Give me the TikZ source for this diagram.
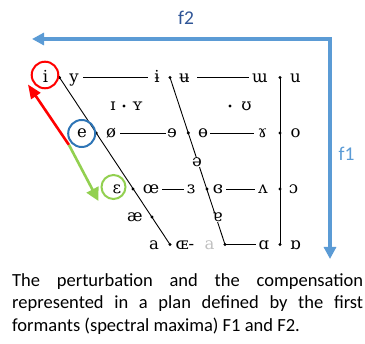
\documentclass[tikz,border=0pt]{standalone}
\usepackage{fontspec}
\setmainfont{Carlito}
\newfontfamily\ipafont{DejaVu Serif}
\usetikzlibrary{arrows.meta}
\definecolor{axisblue}{HTML}{5B9BD5}
\definecolor{labdark}{HTML}{2F5597}
\definecolor{circblue}{HTML}{2E75B6}
\definecolor{lgreen}{HTML}{92D050}
\definecolor{lgray}{HTML}{C0C0C0}
\tikzset{
  v/.style={font=\ipafont\fontsize{16.5}{17}\selectfont, inner sep=0pt, anchor=base},
  vw/.style={v, fill=white, inner xsep=0.5pt},
  chart/.style={line width=0.9pt},
  axis/.style={draw=axisblue, line width=3.2pt, line join=miter, {Triangle[length=12pt,width=12pt]}-{Triangle[length=12pt,width=12pt]}},
  ring/.style={circle, line width=2pt, inner sep=0pt},
  lab/.style={font=\fontsize{19.5}{22}\selectfont, anchor=base},
}
\begin{document}
\begin{tikzpicture}[x=1pt,y=-1pt]
\useasboundingbox (0,0) rectangle (365,344);
% axes
\coordinate (f2tip) at (32,39);
\coordinate (corner) at (330,39);
\coordinate (f1tip) at (330,259);
\draw[axis] (f2tip) -- (corner) -- (f1tip);
\node[lab, text=labdark] (f2) at (186,25) {f2};
\node[lab, text=axisblue] (f1) at (346.5,161) {f1};

% dots
\coordinate (dTL) at (59.5,77.5);
\coordinate (dBL) at (170,244.5);
\coordinate (dTM) at (170,77.5);
\coordinate (dBM) at (225,244.5);
\coordinate (dTR) at (280,77.5);
\coordinate (dBR) at (280,244.5);
% chart lines
\draw[chart] (dTL) -- (dBL);
\draw[chart] (dTM) -- (dBM);
\draw[chart] (dTR) -- (dBR);

% row 1
\node[v] (i) at (45.5,83) {i};
\node[v] (y) at (74,83) {y};
\node[v] (ibar) at (157,83) {ɨ};
\node[v] (ubar) at (184.5,83) {ʉ};
\node[v] (wm) at (260,83) {ɯ};
\node[v] (u) at (295.5,83) {u};
% row 1.5
\node[v] (I) at (113,111) {ɪ};
\node[v] (Y) at (137.5,111) {ʏ};
\node[v] (U) at (246.5,111) {ʊ};
% row 2
\node[v] (e) at (82,138) {e};
\node[v] (oe) at (111,138) {ø};
\node[v] (rev) at (172,138) {ɘ};
\node[v] (obar) at (203,138) {ɵ};
\node[v] (ram) at (262.5,138) {ɤ};
\node[v] (o) at (295.5,138) {o};
% schwa
\node[vw] (schwa) at (197,167) {ə};
% row 3
\node[v] (eps) at (117,194) {ɛ};
\node[v] (oel) at (151,194) {œ};
\node[v] (reps) at (191,194) {ɜ};
\node[v] (ceps) at (218,194) {ɞ};
\node[v] (wedge) at (263,194) {ʌ};
\node[v] (oo) at (293.5,194) {ɔ};
% row 3.5
\node[v] (ae) at (135,222) {æ};
\node[vw] (turna) at (217.5,222) {ɐ};
% row 4
\node[v] (a) at (154,249.5) {a};
\node[v] (OE) at (185,249.5) {ɶ-};
\node[v, text=lgray] (ga) at (209.5,249.5) {a};
\node[v] (scripta) at (264,249.5) {ɑ};
\node[v] (turnscripta) at (295.5,249.5) {ɒ};

% horizontal lines
\draw[chart] (83,77.5) -- (148,77.5);
\draw[chart] (197,77.5) -- (249,77.5);
\draw[chart] (120,133) -- (166,133);
\draw[chart] (210,133) -- (254,133);
\draw[chart] (162,189) -- (184,189);
\draw[chart] (226,189) -- (255,189);
\draw[chart] (dBM) -- (256,244.5);

% dots on chart
\foreach \p in {dTL,dBL,dTM,dBM,dTR,dBR} \fill (\p) circle (1.7pt);
\fill (124,106) circle (1.7pt);
\fill (230,106) circle (1.7pt);
\fill (96.2,133) circle (1.7pt);
\fill (188.3,133) circle (1.7pt);
\fill (133,189) circle (1.7pt);
\fill (207,189) circle (1.7pt);
\fill (152,217) circle (1.7pt);
\fill (280,133) circle (1.7pt);
\fill (280,189) circle (1.7pt);

% rings
\node[ring, draw=red, minimum size=26.6pt] (ri) at (45,75) {};
\node[ring, draw=circblue, minimum size=27pt] (re) at (81.7,133.5) {};
\node[ring, draw=lgreen, minimum size=24pt] (reps2) at (113.5,187) {};

% perturbation / compensation
\coordinate (pstart) at (69,145);
\coordinate (ptip) at (28,84.5);
\coordinate (gtip) at (98.5,201);
\draw[draw=red, line width=2.6pt, -{Triangle[length=14pt,width=11pt]}] (pstart) -- (ptip);
\draw[draw=lgreen, line width=2.6pt, -{Triangle[length=13pt,width=13pt]}] (pstart) -- (gtip);

% caption
\node[anchor=base west, inner sep=0pt, font=\fontsize{18.5}{22}\selectfont] (c1) at (12,286.5) {\makebox[351pt][s]{The perturbation and the compensation}};
\node[anchor=base west, inner sep=0pt, font=\fontsize{18.5}{22}\selectfont] (c2) at (12,309) {\makebox[351pt][s]{represented in a plan defined by the first}};
\node[anchor=base west, inner sep=0pt, font=\fontsize{18.5}{22}\selectfont] (c3) at (12,331.5) {formants (spectral maxima) F1 and F2.};
\end{tikzpicture}
\end{document}
